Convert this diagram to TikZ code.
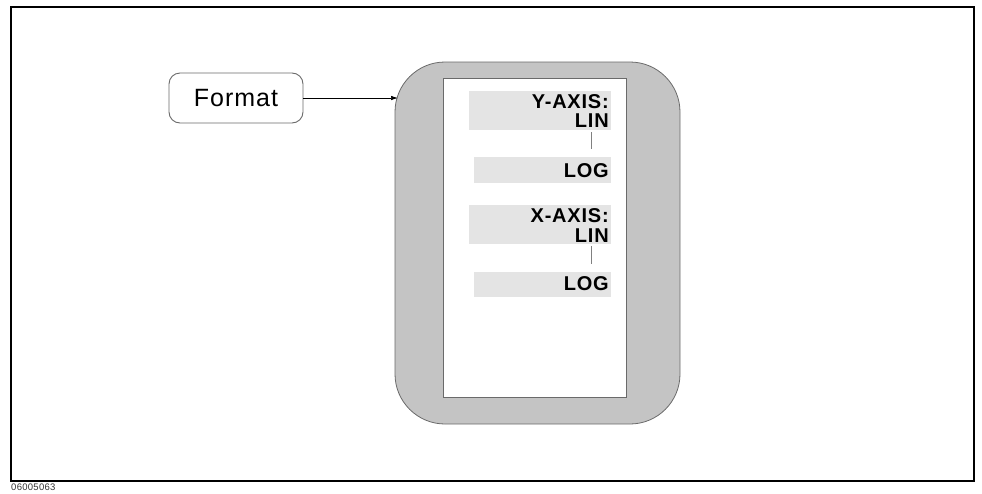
\documentclass[tikz,border=0pt]{standalone}
\usepackage{fontspec}
\setmainfont{Liberation Sans}
\newfontfamily\fmtfont[LetterSpace=4]{Liberation Sans}
\newfontfamily\axfont[LetterSpace=4]{Liberation Sans}
\newfontfamily\idfont[LetterSpace=3]{Liberation Sans}
\usetikzlibrary{arrows.meta}
\definecolor{panelgray}{HTML}{C4C4C4}
\definecolor{blockgray}{HTML}{E4E4E4}
\definecolor{edgegray}{HTML}{6A6A6A}
\tikzset{
  panel/.style={draw=edgegray, line width=0.8pt, fill=panelgray, rounded corners=50pt},
  screen/.style={draw=edgegray, line width=0.8pt, fill=white},
  keybox/.style={draw=edgegray, line width=0.9pt, fill=white, rounded corners=11pt},
  blockbg/.style={fill=blockgray, draw=none},
  axtext/.style={font=\axfont\bfseries\fontsize{20}{20}\selectfont, inner sep=0pt, text=black},
  joint/.style={draw=gray, line width=1pt},
  feed/.style={draw=black, line width=0.7pt, -{Latex[length=7pt,width=4.5pt]}},
}
\begin{document}
\begin{tikzpicture}[x=1pt,y=-1pt]
\useasboundingbox (0,0) rectangle (982,493);
% outer frame
\draw[line width=2.2pt, black] (11,7) rectangle (974,481);
\node[anchor=base west, inner sep=0pt, font=\idfont\fontsize{9.5}{9.5}\selectfont, text=black!80] (figid) at (11,490) {06005063};
% format key
\node[keybox, minimum width=134pt, minimum height=50pt, inner sep=0pt, font=\fmtfont\fontsize{25}{25}\selectfont] (format) at (236,98) {Format};
% panel
\path[panel] (395,62) rectangle (680,424);
\node[screen, minimum width=183pt, minimum height=319pt, inner sep=0pt, anchor=north west] (screen) at (443,77.5) {};
\coordinate (panelin) at (398,98);
\draw[feed] (format.east) -- (panelin);
% Y axis blocks
\node[blockbg, minimum width=142pt, minimum height=39pt, anchor=north west, inner sep=0pt] (ybox) at (469,91) {};
\node[blockbg, minimum width=137pt, minimum height=26pt, anchor=north west, inner sep=0pt] (ylogbox) at (474,157) {};
\node[axtext, anchor=base east] (ytitle) at (609,108) {Y-AXIS:};
\node[axtext, anchor=base east] (ylin) at (609,127) {LIN};
\node[axtext, anchor=base east] (ylog) at (609,177) {LOG};
\draw[joint, shorten <=5pt, shorten >=8pt] (ylin.south) -- (ylin.south |- ylogbox.north);
% X axis blocks
\node[blockbg, minimum width=142pt, minimum height=39pt, anchor=north west, inner sep=0pt] (xbox) at (469,205) {};
\node[blockbg, minimum width=137pt, minimum height=25pt, anchor=north west, inner sep=0pt] (xlogbox) at (474,272) {};
\node[axtext, anchor=base east] (xtitle) at (609,222) {X-AXIS:};
\node[axtext, anchor=base east] (xlin) at (609,242) {LIN};
\node[axtext, anchor=base east] (xlog) at (609,290) {LOG};
\draw[joint, shorten <=4pt, shorten >=8pt] (xlin.south) -- (xlin.south |- xlogbox.north);
\end{tikzpicture}
\end{document}
